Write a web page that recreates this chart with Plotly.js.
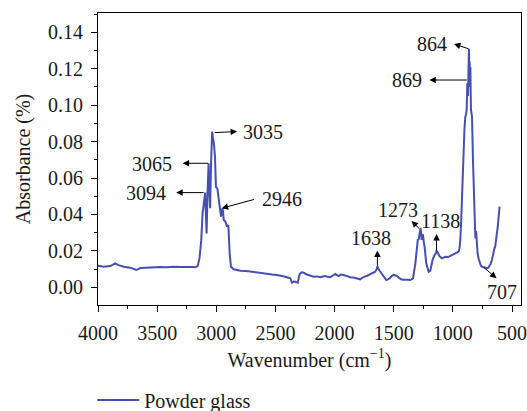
<!DOCTYPE html>
<html>
<head>
<meta charset="utf-8">
<script src="https://cdn.plot.ly/plotly-3.0.1.min.js"></script>
<style>
  html, body { margin: 0; padding: 0; background: #fff; }
  #chart { width: 527px; height: 411px; }
</style>
</head>
<body>
<div id="chart"></div>
<script>
// FTIR spectrum of the powder glass sample
const seriesName = 'Powder glass';

const wavenumber = [
  4000, 3952, 3896, 3854, 3826, 3783, 3727, 3676, 3642, 3600,
  3558, 3515, 3473, 3420, 3361, 3300, 3248, 3200, 3178, 3158,
  3142, 3127, 3116, 3104, 3094, 3088, 3082, 3074, 3065, 3058,
  3052, 3045, 3035, 3028, 3020, 3011, 3003, 2991, 2980, 2971,
  2960, 2952, 2946, 2937, 2923, 2909, 2898, 2887, 2876, 2853,
  2797, 2750, 2712, 2656, 2610, 2572, 2530, 2487, 2450, 2417,
  2374, 2360, 2345, 2331, 2312, 2295, 2278, 2261, 2240, 2219,
  2177, 2150, 2121, 2100, 2079, 2060, 2036, 2015, 1994, 1966,
  1945, 1924, 1895, 1867, 1840, 1811, 1783, 1760, 1741, 1720,
  1698, 1675, 1656, 1645, 1638, 1625, 1613, 1591, 1575, 1563,
  1550, 1535, 1518, 1501, 1485, 1472, 1455, 1438, 1420, 1402,
  1380, 1360, 1337, 1317, 1304, 1296, 1290, 1282, 1273, 1264,
  1258, 1253, 1246, 1239, 1225, 1215, 1205, 1191, 1180, 1172,
  1155, 1145, 1138, 1130, 1115, 1092, 1078, 1064, 1040, 1022,
  1000, 979, 960, 951, 944, 937, 930, 923, 916, 909,
  902, 895, 888, 883, 878, 872, 869, 866, 864, 861,
  858, 855, 852, 847, 842, 838, 830, 825, 819, 814,
  810, 806, 802, 797, 791, 783, 774, 764, 754, 740,
  725, 714, 707, 698, 690, 680, 670, 663, 656, 648,
  642, 635, 628, 621, 614, 609, 605
];

const absorbance = [
  0.0119, 0.0113, 0.0117, 0.0132, 0.0122, 0.0113, 0.0108, 0.0095, 0.0106, 0.0108,
  0.0110, 0.0109, 0.0111, 0.0110, 0.0113, 0.0111, 0.0113, 0.0112, 0.0110, 0.0117,
  0.0159, 0.0259, 0.0406, 0.0470, 0.0520, 0.0400, 0.0296, 0.0520, 0.0681, 0.0520,
  0.0434, 0.0660, 0.0855, 0.0820, 0.0790, 0.0717, 0.0552, 0.0543, 0.0480, 0.0443,
  0.0388, 0.0420, 0.0434, 0.0370, 0.0361, 0.0333, 0.0342, 0.0187, 0.0113, 0.0099,
  0.0091, 0.0090, 0.0086, 0.0080, 0.0078, 0.0073, 0.0070, 0.0068, 0.0064, 0.0058,
  0.0049, 0.0025, 0.0032, 0.0031, 0.0025, 0.0073, 0.0082, 0.0080, 0.0072, 0.0068,
  0.0058, 0.0060, 0.0055, 0.0059, 0.0062, 0.0058, 0.0055, 0.0065, 0.0073, 0.0062,
  0.0070, 0.0068, 0.0061, 0.0055, 0.0054, 0.0049, 0.0044, 0.0055, 0.0062, 0.0065,
  0.0073, 0.0080, 0.0086, 0.0098, 0.0115, 0.0096, 0.0086, 0.0068, 0.0052, 0.0040,
  0.0044, 0.0049, 0.0062, 0.0068, 0.0065, 0.0062, 0.0052, 0.0044, 0.0042, 0.0040,
  0.0041, 0.0040, 0.0049, 0.0132, 0.0241, 0.0265, 0.0260, 0.0300, 0.0326, 0.0260,
  0.0290, 0.0287, 0.0250, 0.0223, 0.0132, 0.0100, 0.0086, 0.0091, 0.0120, 0.0150,
  0.0177, 0.0185, 0.0200, 0.0195, 0.0172, 0.0159, 0.0163, 0.0168, 0.0166, 0.0172,
  0.0176, 0.0183, 0.0190, 0.0196, 0.0215, 0.0260, 0.0360, 0.0480, 0.0650, 0.0809,
  0.0870, 0.0937, 0.0950, 0.0980, 0.1120, 0.1050, 0.1138, 0.1250, 0.1309, 0.1180,
  0.1240, 0.1100, 0.1210, 0.0974, 0.0960, 0.0937, 0.0699, 0.0600, 0.0480, 0.0380,
  0.0269, 0.0310, 0.0296, 0.0240, 0.0187, 0.0160, 0.0132, 0.0120, 0.0113, 0.0110,
  0.0107, 0.0105, 0.0105, 0.0110, 0.0117, 0.0130, 0.0150, 0.0175, 0.0205, 0.0215,
  0.0223, 0.0250, 0.0296, 0.0330, 0.0370, 0.0400, 0.0443
];

// Band positions marked on the spectrum (cm-1)
const peakWavenumbers = [3094, 3065, 3035, 2946, 1638, 1273, 1138, 869, 864, 707];

// Tick values
const xTickValues = [4000, 3500, 3000, 2500, 2000, 1500, 1000, 500];
const yTickValues = [0.00, 0.02, 0.04, 0.06, 0.08, 0.10, 0.12, 0.14];

// Pixel offsets from each band point: arrow tail, arrow head, label centre
const calloutOffsets = {
  3094: { tail: [-1, 0],  head: [-29, 0],  label: [-59, 0] },
  3065: { tail: [0, 0],   head: [-26, 0],  label: [-57, 0.5] },
  3035: { tail: [2, 1],   head: [25, 0],   label: [51, 0] },
  2946: { tail: [32, -9], head: [-1, 0],   label: [59, -9] },
  1638: { tail: [0, 0],   head: [0, -16],  label: [-6, -28] },
  1273: { tail: [-1, 1],  head: [-9, -7],  label: [-23, -18] },
  1138: { tail: [0, 0],   head: [0, -17],  label: [4, -30] },
  869:  { tail: [-1, 0],  head: [-39, 0],  label: [-61, 0] },
  864:  { tail: [0, 0],   head: [-15, -5], label: [-37, -5] },
  707:  { tail: [-4, -1], head: [9, 10],   label: [14, 23.5] }
};

const FONT = 'Liberation Serif';
const FS = 20;
const textColor = '#1a1a1a';
const lineColor = '#4650b3';

const annotations = [];
peakWavenumbers.forEach(function (wn) {
  const idx = wavenumber.indexOf(wn);
  const a = absorbance[idx];
  const o = calloutOffsets[wn];
  annotations.push({
    x: wn, y: a, xref: 'x', yref: 'y',
    text: '', showarrow: true,
    xshift: o.head[0], yshift: -o.head[1],
    ax: o.tail[0] - o.head[0], ay: o.tail[1] - o.head[1],
    arrowhead: 2, arrowsize: 1.3, arrowwidth: 1, arrowcolor: '#000',
    borderpad: 0, standoff: 0, startstandoff: 0
  });
  annotations.push({
    x: wn, y: a, xref: 'x', yref: 'y',
    text: String(wn), showarrow: false,
    xshift: o.label[0], yshift: -o.label[1],
    xanchor: 'center', yanchor: 'middle',
    font: { family: FONT, size: FS, color: textColor }
  });
});

const trace = {
  x: wavenumber,
  y: absorbance,
  type: 'scatter',
  mode: 'lines',
  name: seriesName,
  line: { color: lineColor, width: 2 }
};

const axisCommon = {
  showline: true, linecolor: '#000', linewidth: 1, mirror: true,
  showgrid: false, zeroline: false, automargin: false,
  ticks: 'outside', ticklen: 6, tickwidth: 1, tickcolor: '#000',
  ticklabeloverflow: 'allow',
  tickfont: { family: FONT, size: FS, color: textColor }
};

const layout = {
  width: 527, height: 411,
  margin: { l: 98, r: 6, t: 13, b: 106, autoexpand: false },
  paper_bgcolor: '#fff', plot_bgcolor: '#fff',
  showlegend: true,
  legend: {
    orientation: 'h', xref: 'container', yref: 'container',
    x: 0.175, xanchor: 'left', y: 0.027, yanchor: 'middle',
    itemwidth: 42,
    font: { family: FONT, size: FS, color: textColor },
    bgcolor: 'rgba(0,0,0,0)'
  },
  xaxis: Object.assign({}, axisCommon, {
    range: [4000, 424],
    tickvals: xTickValues,
    ticktext: xTickValues.map(String),
    ticklabelstandoff: 4,
    minor: { dtick: 250, tick0: 0, ticklen: 3, tickwidth: 1, tickcolor: '#000', ticks: 'outside', showgrid: false },
    title: { text: 'Wavenumber (cm<sup>−1</sup>)', font: { family: FONT, size: FS, color: textColor }, standoff: 9 }
  }),
  yaxis: Object.assign({}, axisCommon, {
    range: [-0.0097, 0.1506],
    tickvals: yTickValues,
    ticktext: yTickValues.map(function (v) { return v.toFixed(2); }),
    ticklabelstandoff: 4,
    minor: { dtick: 0.01, tick0: 0, ticklen: 3, tickwidth: 1, tickcolor: '#000', ticks: 'outside', showgrid: false },
    title: { text: 'Absorbance (%)', font: { family: FONT, size: FS, color: textColor }, standoff: 12 }
  }),
  annotations: annotations
};

Plotly.newPlot('chart', [trace], layout, { staticPlot: true, displayModeBar: false });
</script>
</body>
</html>
